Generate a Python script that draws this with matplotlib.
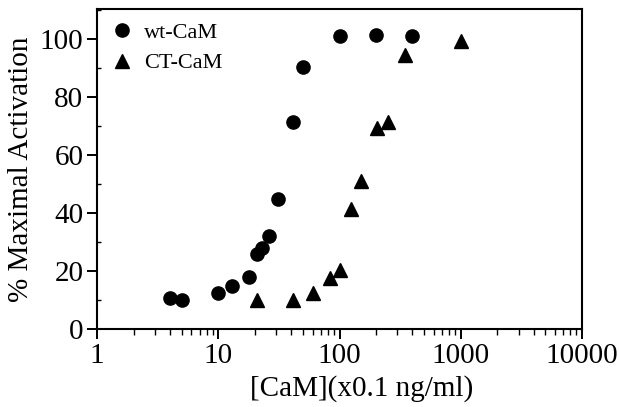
import matplotlib.pyplot as plt
from matplotlib.ticker import FixedLocator, MultipleLocator, LogLocator, NullFormatter

plt.rcParams['font.family'] = ['Liberation Serif', 'DejaVu Serif']

# wt-CaM (circles)
wt_conc = [4, 5, 10, 13, 18, 21, 23, 26, 31, 41, 50, 100, 200, 400]
wt_act = [10.5, 10, 12.3, 14.7, 18, 26, 28, 32, 45, 71.5, 90.5, 101, 101.5, 101]

# CT-CaM (triangles)
ct_conc = [21, 41, 60, 83, 100, 125, 150, 205, 250, 350, 1000]
ct_act = [10, 10, 12.5, 17.5, 20.5, 41.5, 51, 69.5, 71.5, 94.5, 99.5]

x_ticks = [1, 10, 100, 1000, 10000]
y_ticks = [0, 20, 40, 60, 80, 100]

fig = plt.figure(figsize=(6.19, 4.07), dpi=100)
ax = fig.add_axes([0.157, 0.192, 0.783, 0.786])

ax.plot(wt_conc, wt_act, 'o', color='black', markersize=9.5, label='wt-CaM')
ax.plot(ct_conc, ct_act, '^', color='black', markersize=9.5, label='CT-CaM')

ax.set_xscale('log')
ax.set_xlim(1, 10000)
ax.set_ylim(0, 110.5)
ax.xaxis.set_major_locator(FixedLocator(x_ticks))
ax.set_xticklabels([str(t) for t in x_ticks])
ax.xaxis.set_minor_locator(LogLocator(base=10, subs=range(2, 10)))
ax.xaxis.set_minor_formatter(NullFormatter())
ax.yaxis.set_major_locator(FixedLocator(y_ticks))
ax.yaxis.set_minor_locator(MultipleLocator(10))

ax.tick_params(axis='both', which='major', labelsize=21, width=1.4, length=7,
               direction='out', pad=3)
ax.tick_params(axis='x', which='minor', width=1.0, length=4, direction='out')
ax.tick_params(axis='y', which='minor', width=1.0, length=3, direction='in')
for s in ax.spines.values():
    s.set_linewidth(1.5)

ax.set_xlabel('[CaM](x0.1 ng/ml)', fontsize=21)
ax.xaxis.set_label_coords(0.545, -0.145)
ax.set_ylabel('% Maximal Activation', fontsize=21, labelpad=4)

ax.legend(loc='upper left', frameon=False, fontsize=16, handletextpad=0.5,
          borderaxespad=0.2, labelspacing=0.45, handlelength=1.0)

fig.savefig('out.png', dpi=100)
